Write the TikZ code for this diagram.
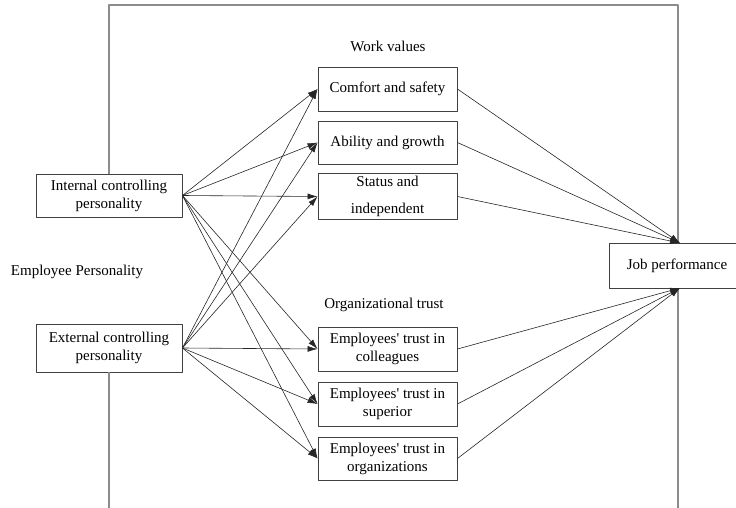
\documentclass[tikz,border=0pt]{standalone}
\usepackage{fontspec}
\setmainfont{Liberation Serif}
\usetikzlibrary{arrows.meta}
\begin{document}
\begin{tikzpicture}[x=1pt,y=-1pt,line join=round,>={Latex[length=10pt,width=6pt]}]
\tikzset{every node/.style={font=\fontsize{15}{18}\selectfont},
  factor/.style={draw=black!75,line width=0.9pt,inner sep=0pt,align=center,minimum width=139,minimum height=44},
  person/.style={factor,minimum width=146},
  link/.style={black!85,line width=0.6pt},
  frame/.style={black!45,line width=1.3pt}}
\useasboundingbox (0,0) rectangle (736,508);
% personality side
\node[person,minimum height=43] (int) at (109,195.5) {Internal controlling\\personality};
\node[person,minimum height=48] (ext) at (109,348) {External controlling\\personality};
\node (perslabel) at (77,272) {Employee Personality};
% work values
\node (wvlabel) at (388,46) {Work values};
\node[factor] (comfort) at (387.5,89) {Comfort and safety};
\node[factor,minimum height=43] (ability) at (387.5,142.5) {Ability and growth};
\node[factor,minimum height=46] (status) at (387.5,196.5) {Status and\\[9pt]independent};
% organizational trust
\node (otlabel) at (384,305) {Organizational trust};
\node[factor] (colleagues) at (387.5,349) {Employees\textquotesingle{} trust in\\colleagues};
\node[factor] (superior) at (387.5,404) {Employees\textquotesingle{} trust in\\superior};
\node[factor,minimum height=43] (organizations) at (387.5,458.5) {Employees\textquotesingle{} trust in\\organizations};
% outcome
\node[factor,minimum width=136,minimum height=45] (job) at (677,265.5) {Job performance};
\coordinate (jobtop) at (680,243);
\coordinate (jobbot) at (680,288);
% frame
\coordinate (frameTL) at (109,5);
\coordinate (frameTR) at (678,5);
\coordinate (frameBL) at (109,508);
\coordinate (frameBR) at (678,508);
\draw[frame] (int.north) -- (frameTL) -- (frameTR) -- (frameTR |- job.north);
\draw[frame] (ext.south) -- (frameBL);
\draw[frame] (frameBR |- job.south) -- (frameBR);
% paths
\foreach \t in {comfort,ability,status,colleagues,superior,organizations}{
\draw[link,->] (int.east) -- (\t.west);
\draw[link,->] (ext.east) -- (\t.west);}
\foreach \t in {comfort,ability,status}
\draw[link,->] (\t.east) -- (jobtop);
\foreach \t in {colleagues,superior,organizations}
\draw[link,->] (\t.east) -- (jobbot);
\end{tikzpicture}
\end{document}
